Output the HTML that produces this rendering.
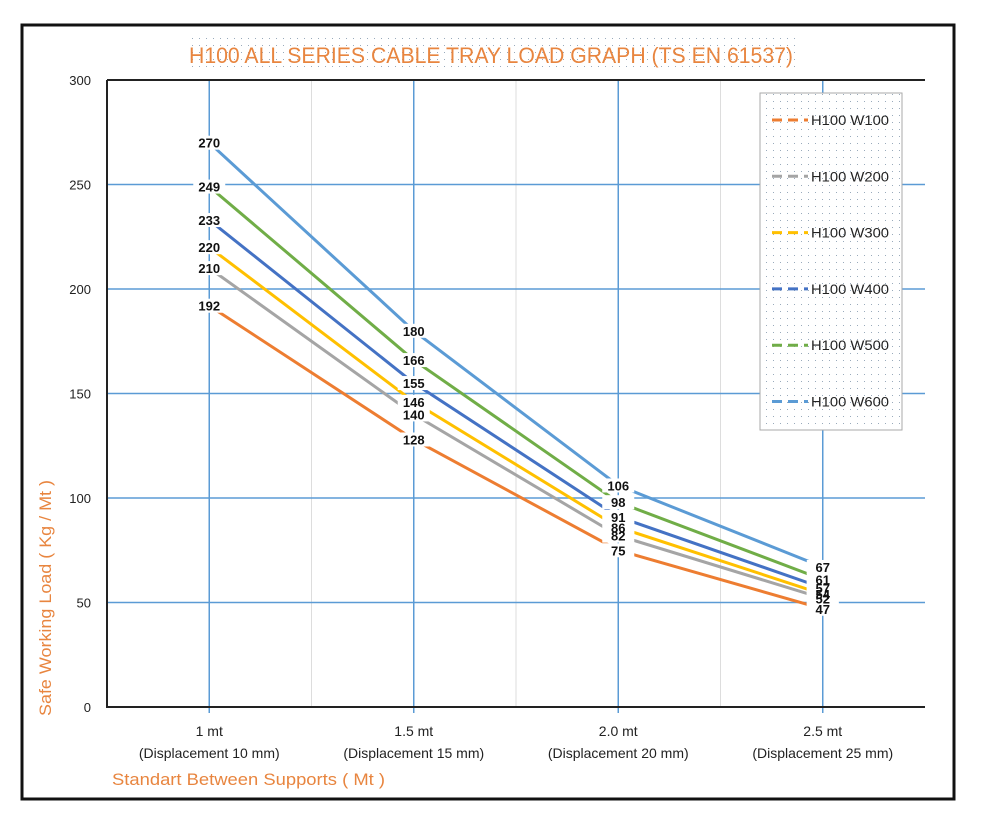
<!DOCTYPE html>
<html><head><meta charset="utf-8"><style>
body{margin:0;background:#fff;}
svg{display:block;font-family:"Liberation Sans",sans-serif;}
</style></head><body>
<svg id="c" width="986" height="827">
<defs>
<pattern id="dots" width="7" height="7" patternUnits="userSpaceOnUse"><rect x="3" y="3" width="1" height="1" fill="#9ab"/></pattern>
</defs>
<rect x="22" y="25" width="932" height="774" fill="#fff" stroke="#111" stroke-width="3"/>
<rect x="186" y="37" width="610" height="35" fill="url(#dots)"/>
<text x="491" y="63" text-anchor="middle" font-size="22" fill="#E8853F" textLength="604" lengthAdjust="spacingAndGlyphs">H100 ALL SERIES CABLE TRAY LOAD GRAPH (TS EN 61537)</text>
<g id="grid"></g>
<g id="series"></g>
<g id="labels"></g>
<g id="axes"></g>
<g id="legend"></g>
<text transform="translate(51,598) rotate(-90)" text-anchor="middle" font-size="17" fill="#E8853F" textLength="236" lengthAdjust="spacingAndGlyphs">Safe Working Load ( Kg / Mt )</text>
<text x="112" y="785" font-size="17" fill="#E8853F" textLength="273" lengthAdjust="spacingAndGlyphs">Standart Between Supports ( Mt )</text>
</svg>
<script>
const categories=["1 mt","1.5 mt","2.0 mt","2.5 mt"];
const subLabels=["(Displacement 10 mm)","(Displacement 15 mm)","(Displacement 20 mm)","(Displacement 25 mm)"];
const yTicks=[0,50,100,150,200,250,300];
const seriesNames=["H100 W100","H100 W200","H100 W300","H100 W400","H100 W500","H100 W600"];
const w100=[192,128,75,47];
const w200=[210,140,82,52];
const w300=[220,146,86,54];
const w400=[233,155,91,57];
const w500=[249,166,98,61];
const w600=[270,180,106,67];
const colors=["#ED7D31","#A5A5A5","#FFC000","#4472C4","#70AD47","#5B9BD5"];
const allSeries=[w100,w200,w300,w400,w500,w600];
const NS="http://www.w3.org/2000/svg";
const L=107,R=925,T=80,B=707,YMAX=300;
const band=(R-L)/categories.length;
function xs(i){return L+band*(i+0.5);}
function ys(v){return B-(v/YMAX)*(B-T);}
function mk(tag,attrs,parent,text){const e=document.createElementNS(NS,tag);for(const k in attrs)e.setAttribute(k,attrs[k]);if(text!==undefined)e.textContent=text;parent.appendChild(e);return e;}
const grid=document.getElementById('grid'),axes=document.getElementById('axes'),sg=document.getElementById('series'),lg=document.getElementById('labels'),leg=document.getElementById('legend');
for(let i=1;i<categories.length;i++){const x=L+band*i;const g=mk('line',{x1:x,x2:x,y1:T,y2:B,stroke:'#ddd','stroke-width':1},grid);

}
categories.forEach((c,i)=>{const g=mk('line',{x1:xs(i),x2:xs(i),y1:T,y2:B+6,stroke:'#5B9BD5','stroke-width':1.5},grid);


const t=mk('text',{x:xs(i),y:736,'text-anchor':'middle','font-size':14,fill:'#222'},axes,c);


const s=mk('text',{x:xs(i),y:758,'text-anchor':'middle','font-size':14,fill:'#222'},axes,subLabels[i]);

});
yTicks.forEach(v=>{if(v>0&&v<YMAX){const g=mk('line',{x1:L,x2:R,y1:ys(v),y2:ys(v),stroke:'#5B9BD5','stroke-width':1.5},grid);

}
const t=mk('text',{x:91,y:ys(v)+5,'text-anchor':'end','font-size':13,fill:'#222'},axes,String(v));

});
const ax=mk('path',{d:`M${L},${T}H${R}M${L},${T}V${B}H${R}`,stroke:'#222','stroke-width':2,fill:'none'},axes);


allSeries.forEach((s,k)=>{const p=mk('polyline',{points:s.map((v,i)=>xs(i)+','+ys(v)).join(' '),fill:'none',stroke:colors[k],'stroke-width':3},sg);


s.forEach((v,i)=>{const r=mk('rect',{x:xs(i)-16,y:ys(v)-7,width:32,height:14,fill:'#fff'},lg);

});});
allSeries.forEach((s,k)=>{s.forEach((v,i)=>{const t=mk('text',{x:xs(i),y:ys(v)+5,'text-anchor':'middle','font-size':13,'font-weight':'bold',fill:'#111'},lg,String(v));

});});
const lb=mk('rect',{x:760,y:93,width:142,height:337,fill:'#fff',stroke:'#aaa','stroke-width':1},leg);


const lp=mk('rect',{x:760,y:93,width:142,height:337,fill:'url(#dots)'},leg);


seriesNames.forEach((n,k)=>{const y=120+k*56.3;const g=mk('g',{},leg);


mk('line',{x1:772,x2:808,y1:y,y2:y,stroke:colors[k],'stroke-width':3,'stroke-dasharray':'10 6'},g);
mk('text',{x:811,y:y+5,'font-size':14,fill:'#222',textLength:78,lengthAdjust:'spacingAndGlyphs'},g,n);});
</script>
</body></html>
